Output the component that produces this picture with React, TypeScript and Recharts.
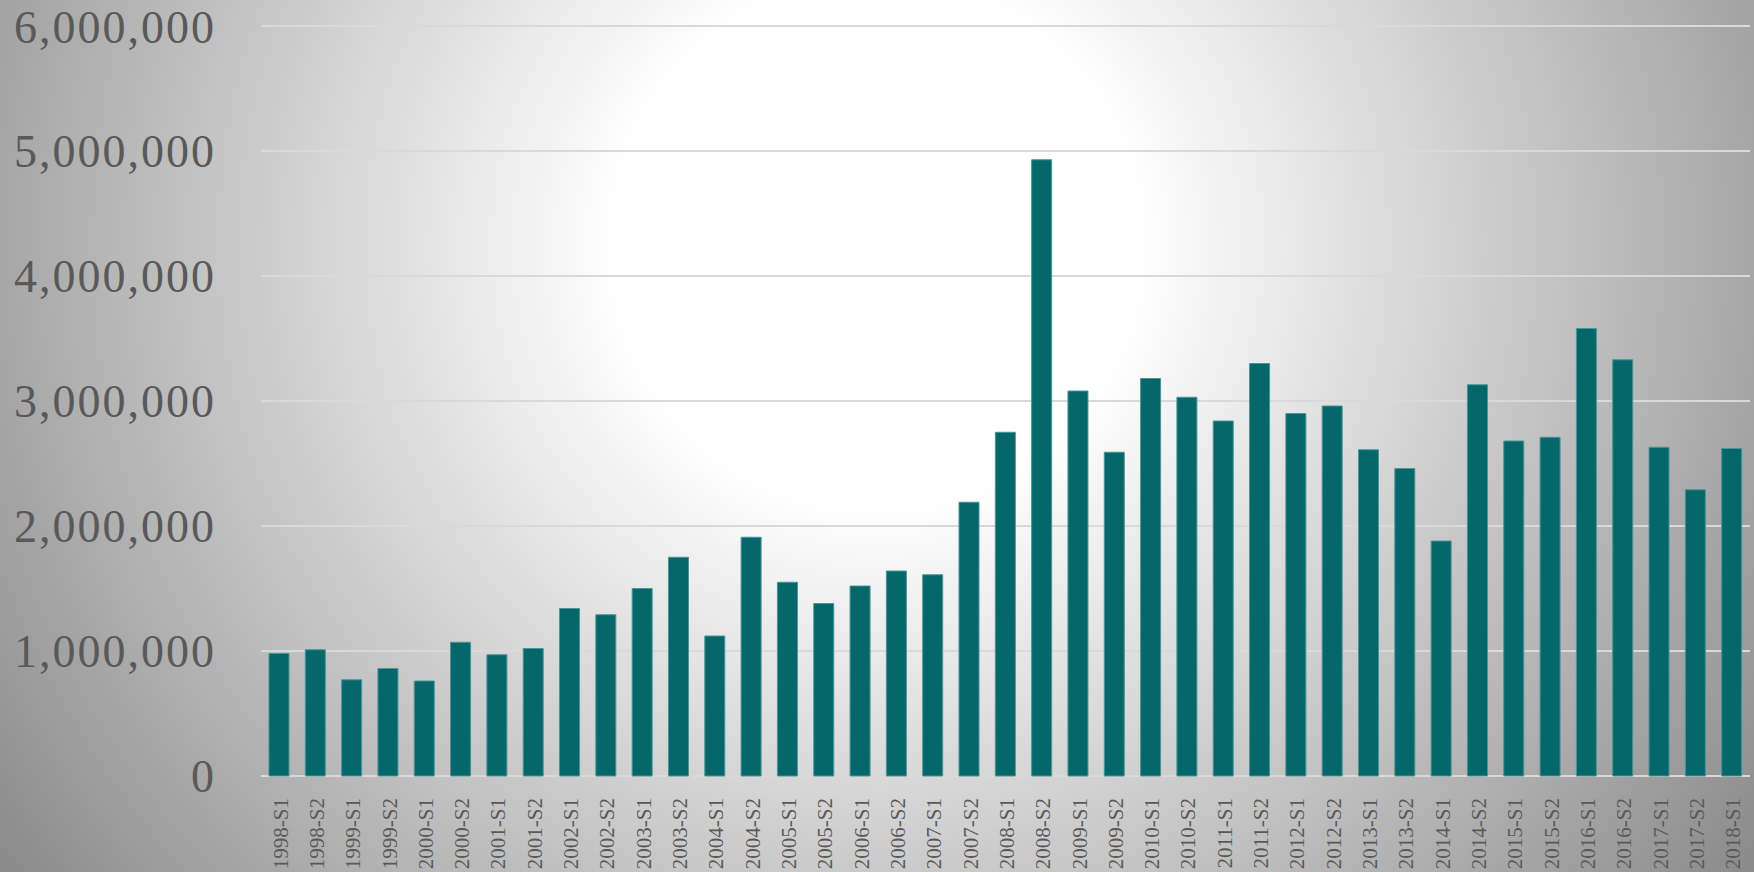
import React from "react";
import { BarChart, Bar, XAxis, YAxis, CartesianGrid } from "recharts";

const periods = [
  "1998-S1", "1998-S2", "1999-S1", "1999-S2", "2000-S1", "2000-S2",
  "2001-S1", "2001-S2", "2002-S1", "2002-S2", "2003-S1", "2003-S2",
  "2004-S1", "2004-S2", "2005-S1", "2005-S2", "2006-S1", "2006-S2",
  "2007-S1", "2007-S2", "2008-S1", "2008-S2", "2009-S1", "2009-S2",
  "2010-S1", "2010-S2", "2011-S1", "2011-S2", "2012-S1", "2012-S2",
  "2013-S1", "2013-S2", "2014-S1", "2014-S2", "2015-S1", "2015-S2",
  "2016-S1", "2016-S2", "2017-S1", "2017-S2", "2018-S1",
];

const counts = [
  980000, 1010000, 770000, 860000, 760000, 1070000,
  970000, 1020000, 1340000, 1290000, 1500000, 1750000,
  1120000, 1910000, 1550000, 1380000, 1520000, 1640000,
  1610000, 2190000, 2750000, 4930000, 3080000, 2590000,
  3180000, 3030000, 2840000, 3300000, 2900000, 2960000,
  2610000, 2460000, 1880000, 3130000, 2680000, 2710000,
  3580000, 3330000, 2630000, 2290000, 2620000,
];

const yTicks = [0, 1000000, 2000000, 3000000, 4000000, 5000000, 6000000];

const data = periods.map((period, i) => ({ period, count: counts[i] }));

const fmt = (v: number) => v.toLocaleString("en-US");

function PeriodTick({ x, y, payload }: any) {
  return (
    <g transform={`translate(${x},${y})`}>
      <text
        transform="rotate(-90)"
        x={-14}
        y={0}
        dy="0.4em"
        textAnchor="end"
        fill="#595959"
        fontSize={21}
        fontFamily="'Liberation Serif', serif"
      >
        {payload.value}
      </text>
    </g>
  );
}

export default function App() {
  return (
    <div
      style={{
        position: "absolute",
        left: 0,
        top: 0,
        width: 1754,
        height: 872,
        background:
          "radial-gradient(circle farthest-corner at 50% 28%, #ffffff 0%, #ffffff 24%, #8a8a8a 100%)",
      }}
    >
      <BarChart
        width={1754}
        height={872}
        data={data}
        margin={{ top: 26, right: 4, left: 0, bottom: 0 }}
        barCategoryGap="22%"
      >
        <CartesianGrid vertical={false} stroke="#d9d9d9" strokeWidth={2} />
        <XAxis
          dataKey="period"
          interval={0}
          axisLine={false}
          tickLine={false}
          height={96}
          tick={<PeriodTick />}
        />
        <YAxis
          domain={[0, 6000000]}
          ticks={yTicks}
          tickFormatter={fmt}
          axisLine={false}
          tickLine={false}
          tickSize={0}
          tickMargin={45}
          width={261}
          tick={{
            fill: "#595959",
            fontSize: 46,
            letterSpacing: 2,
            fontFamily: "'Liberation Serif', serif",
          }}
        />
        <Bar
          dataKey="count"
          fill="#05676a"
          stroke="#4a9597"
          strokeWidth={1}
          isAnimationActive={false}
        />
      </BarChart>
    </div>
  );
}
